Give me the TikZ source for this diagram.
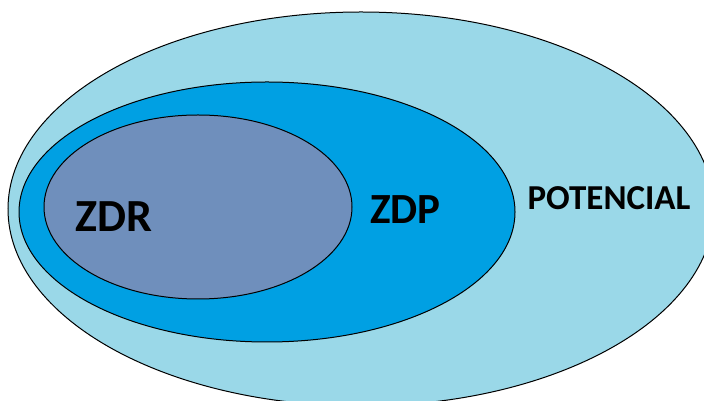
\documentclass[tikz,border=0pt]{standalone}
\usepackage{fontspec}
\setmainfont{Carlito}
\usetikzlibrary{shapes.geometric}
\definecolor{zoneouter}{RGB}{154,216,232}
\definecolor{zonemid}{RGB}{0,160,227}
\definecolor{zoneinner}{RGB}{111,143,188}
\tikzset{
  zone/.style={ellipse, draw=black, line width=1pt, inner sep=0pt},
  zonelabel/.style={font=\bfseries, text=black, inner sep=0pt}
}
\begin{document}
\begin{tikzpicture}[x=1pt,y=1pt]
  \useasboundingbox (0,0) rectangle (704,401);
  \fill[white] (0,0) rectangle (704,401);
  \begin{scope}
    \clip (0,0) rectangle (704,401);
    % three nested zones, outermost first
    \node[zone, fill=zoneouter, minimum width=706pt, minimum height=394pt] (potencial) at (361,192) {};
    \node[zone, fill=zonemid, minimum width=496pt, minimum height=260pt] (zdp) at (267,189) {};
    \node[zone, fill=zoneinner, minimum width=308pt, minimum height=184pt] (zdr) at (198,194) {};
  \end{scope}
  \node[zonelabel, font=\bfseries\fontsize{46}{46}\selectfont] (tzdr) at (113.5,184) {ZDR};
  \node[zonelabel, font=\bfseries\fontsize{43}{43}\selectfont] (tzdp) at (405.5,191) {ZDP};
  \node[zonelabel, font=\bfseries\fontsize{35}{35}\selectfont] (tpot) at (609,203) {POTENCIAL};
\end{tikzpicture}
\end{document}
